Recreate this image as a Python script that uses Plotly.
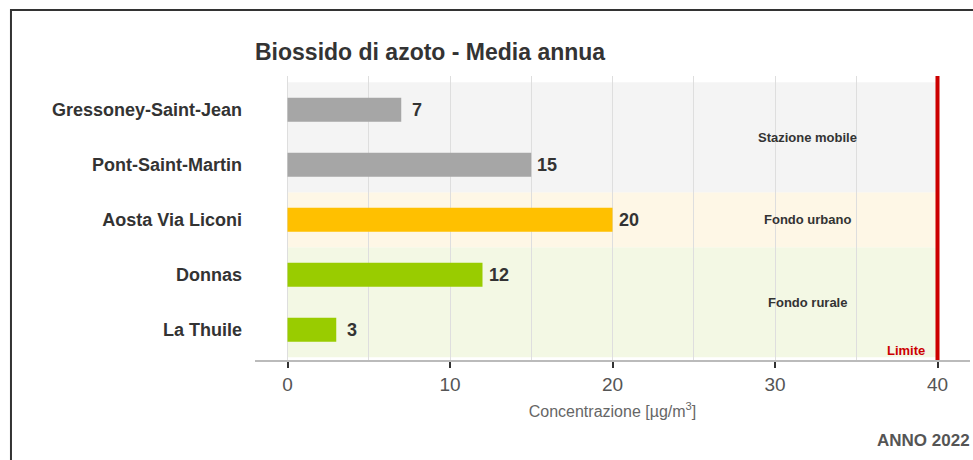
import plotly.graph_objects as go

# Data
stations = ["La Thuile", "Donnas", "Aosta Via Liconi", "Pont-Saint-Martin", "Gressoney-Saint-Jean"]
values = [3, 12, 20, 15, 7]
bar_colors = ["#99cc00", "#99cc00", "#ffc000", "#a6a6a6", "#a6a6a6"]

band_labels = ["Fondo rurale", "Fondo urbano", "Stazione mobile"]
band_from = [-0.5, 1.5, 2.5]
band_to = [1.5, 2.5, 4.5]
band_colors = ["#f3f8e4", "#fef7e6", "#f4f4f4"]

limit_value = 40
x_ticks = [0, 10, 20, 30, 40]

title_text = "Biossido di azoto - Media annua"
x_title = "Concentrazione [µg/m<sup>3</sup>]"
year_text = "ANNO 2022"

FONT = "Liberation Sans, Arial, sans-serif"

fig = go.Figure()
fig.add_trace(go.Bar(
    y=stations, x=values, orientation="h",
    marker=dict(color=bar_colors, line=dict(width=0)),
    width=0.44, hoverinfo="x+y", showlegend=False,
))

shapes = []
annotations = []
for lab, y0, y1, c in zip(band_labels, band_from, band_to, band_colors):
    shapes.append(dict(type="rect", xref="x", yref="y", x0=0, x1=limit_value,
                       y0=y0, y1=y1, fillcolor=c, line=dict(width=0), layer="below"))
    annotations.append(dict(x=32, y=(y0 + y1) / 2, xref="x", yref="y", text="<b>" + lab + "</b>",
                            showarrow=False, font=dict(size=13, color="#333333", family=FONT)))

for s, v in zip(stations, values):
    annotations.append(dict(x=v, y=s, xref="x", yref="y", text="<b>%d</b>" % v, showarrow=False,
                            xanchor="center", xshift=16,
                            font=dict(size=18, color="#333333", family=FONT)))

shapes.append(dict(type="line", xref="x", yref="paper", x0=limit_value, x1=limit_value, y0=0, y1=1,
                   line=dict(color="#cc0000", width=4), layer="above"))
annotations.append(dict(x=limit_value, y=0.032, xref="x", yref="paper", text="<b>Limite</b>",
                        showarrow=False, xanchor="right", yanchor="middle", xshift=-11,
                        font=dict(size=13, color="#cc0000", family=FONT)))
annotations.append(dict(x=1, y=-0.285, xref="paper", yref="paper", text="<b>" + year_text + "</b>",
                        showarrow=False, xanchor="right", yanchor="middle", xshift=2,
                        font=dict(size=17, color="#555555", family=FONT)))

# outer frame
shapes.append(dict(type="path", xref="paper", yref="paper",
                   path="M -0.3413,-0.36 L -0.3413,1.2324 L 1.02,1.2324",
                   line=dict(color="#333333", width=2)))

fig.update_layout(
    width=973, height=460,
    margin=dict(l=255, r=3, t=76, b=100),
    paper_bgcolor="white", plot_bgcolor="white",
    title=dict(text="<b>" + title_text + "</b>", x=255 / 973, xanchor="left", y=1 - 52 / 460, yanchor="middle",
               font=dict(size=23, color="#333333", family=FONT)),
    xaxis=dict(range=[-2, 42], tickvals=x_ticks, showgrid=True, gridcolor="#dedede", gridwidth=1,
               minor=dict(dtick=5, showgrid=True, gridcolor="#dedede", tick0=0),
               zeroline=False, showline=True, linecolor="#bbbbbb", linewidth=2,
               ticks="outside", ticklen=6, tickwidth=2, tickcolor="#333333",
               tickfont=dict(size=19, color="#555555", family=FONT),
               title=dict(text=x_title, standoff=12,
                          font=dict(size=16, color="#666666", family=FONT))),
    yaxis=dict(type="category", categoryorder="array", categoryarray=stations, range=[-0.55, 4.614],
               showgrid=False, zeroline=False, showline=False, ticks="", ticklabelstandoff=12,
               tickfont=dict(size=18, color="#333333", family=FONT)),
    shapes=shapes, annotations=annotations,
)
fig.update_yaxes(ticktext=["<b>" + s + "</b>" for s in stations], tickvals=stations)

fig.write_html("out.html", config={"displayModeBar": False},
               post_script="document.body.style.margin='0';")
